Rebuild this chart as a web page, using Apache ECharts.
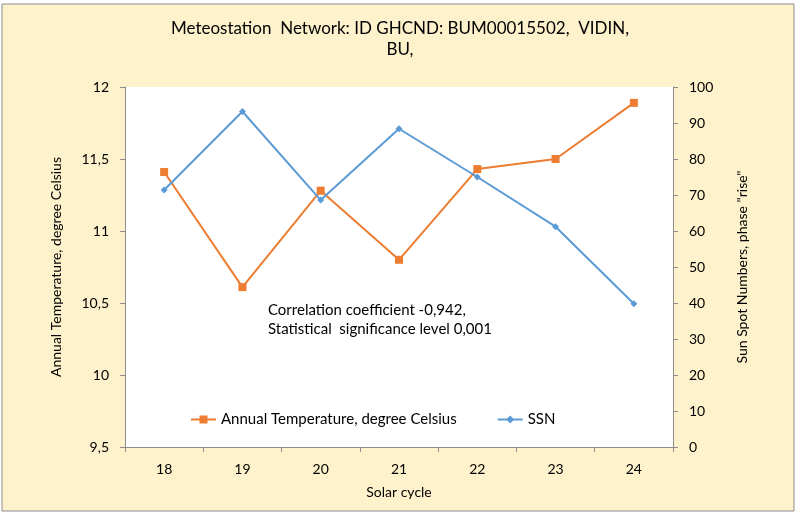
<!DOCTYPE html>
<html>
<head>
<meta charset="utf-8">
<script src="https://cdn.jsdelivr.net/npm/echarts@6/dist/echarts.min.js"></script>
<style>
  html, body { margin: 0; padding: 0; background: #fff; }
  #chart { width: 802px; height: 519px; }
</style>
</head>
<body>
<div id="chart"></div>
<script>
  // data
  var cycles = ['18', '19', '20', '21', '22', '23', '24']
  var tempValues = [11.41, 10.61, 11.28, 10.80, 11.43, 11.50, 11.89]
  var ssnValues = [71.4, 93.2, 68.6, 88.4, 75.0, 61.2, 39.8]

  var font = 'Lato'
  var axisGrey = '#8c8c8c'

  var chart = echarts.init(document.getElementById('chart'))
  chart.setOption({
    backgroundColor: '#fff',
    textStyle: { fontFamily: font },
    graphic: [
      {
        type: 'rect', z: -10, silent: true,
        shape: { x: 2, y: 4, width: 792, height: 507 },
        style: { fill: '#fef2cc', stroke: '#8c8c8c', lineWidth: 1 }
      },
      {
        type: 'text', x: 400, y: 18,
        style: {
          text: 'Meteostation  Network: ID GHCND: BUM00015502,  VIDIN,\nBU,',
          font: '17px ' + font, fill: '#000', align: 'center',
          verticalAlign: 'top', lineHeight: 21
        }
      },
      {
        type: 'text', x: 268, y: 301,
        style: {
          text: 'Correlation coefficient -0,942,\nStatistical  significance level 0,001',
          font: '15px ' + font, fill: '#000', lineHeight: 19,
          verticalAlign: 'top'
        }
      }
    ],
    grid: {
      left: 125, right: 129, top: 87, bottom: 72,
      show: true, backgroundColor: '#fff', borderWidth: 0
    },
    legend: {
      top: 412, left: 190, padding: 0,
      itemGap: 40, itemWidth: 25, itemHeight: 10,
      textStyle: { fontFamily: font, fontSize: 15, color: '#000' },
      data: ['Annual Temperature, degree Celsius', 'SSN']
    },
    xAxis: {
      type: 'category',
      data: cycles,
      boundaryGap: true,
      name: 'Solar cycle',
      nameLocation: 'middle',
      nameGap: 38,
      nameTextStyle: { fontSize: 14, color: '#000', fontFamily: font },
      axisLine: { lineStyle: { color: axisGrey } },
      axisTick: { show: true, alignWithLabel: false, length: 5, lineStyle: { color: axisGrey } },
      axisLabel: { fontSize: 14, color: '#000', margin: 15 }
    },
    yAxis: [
      {
        type: 'value', min: 9.5, max: 12, interval: 0.5,
        name: 'Annual Temperature, degree Celsius',
        nameLocation: 'middle', nameGap: 62,
        nameTextStyle: { fontSize: 14, color: '#000', fontFamily: font },
        axisLine: { show: true, lineStyle: { color: axisGrey } },
        axisTick: { show: true, length: 5, lineStyle: { color: axisGrey } },
        splitLine: { show: false },
        axisLabel: {
          fontSize: 14, color: '#000', margin: 16,
          formatter: function (v) { return String(v).replace('.', ',') }
        }
      },
      {
        type: 'value', min: 0, max: 100, interval: 10,
        name: 'Sun Spot Numbers, phase "rise"',
        nameLocation: 'middle', nameGap: 62, nameRotate: 90,
        nameTextStyle: { fontSize: 14, color: '#000', fontFamily: font },
        axisLine: { show: true, lineStyle: { color: axisGrey } },
        axisTick: { show: true, length: 5, lineStyle: { color: axisGrey } },
        splitLine: { show: false },
        axisLabel: { fontSize: 14, color: '#000', margin: 16 }
      }
    ],
    series: [
      {
        name: 'Annual Temperature, degree Celsius',
        type: 'line',
        yAxisIndex: 0,
        data: tempValues,
        symbol: 'rect', symbolSize: 8,
        itemStyle: { color: '#ed7d31' },
        lineStyle: { color: '#ed7d31', width: 2 }
      },
      {
        name: 'SSN',
        type: 'line',
        yAxisIndex: 1,
        data: ssnValues,
        symbol: 'diamond', symbolSize: 7,
        itemStyle: { color: '#5b9bd5' },
        lineStyle: { color: '#5b9bd5', width: 2 }
      }
    ]
  })
</script>
</body>
</html>
